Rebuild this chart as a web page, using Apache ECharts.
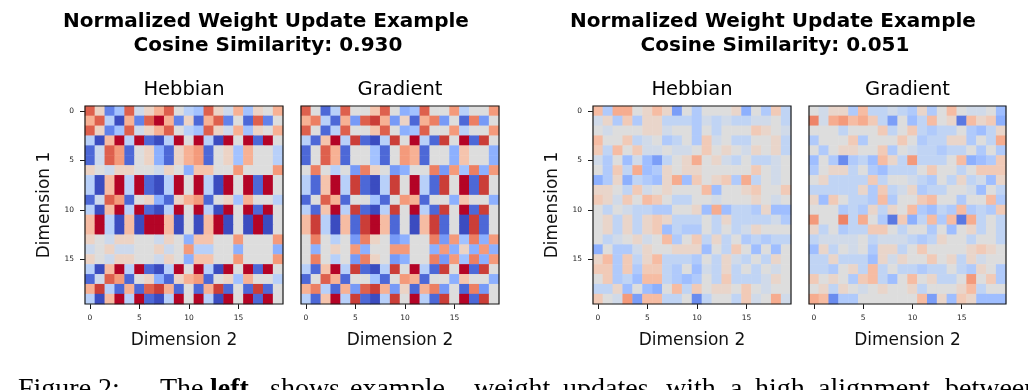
<!DOCTYPE html>
<html>
<head>
<meta charset="utf-8">
<script src="https://cdn.jsdelivr.net/npm/echarts@6/dist/echarts.min.js"></script>
<style>
html,body{margin:0;padding:0;background:#ffffff;}
#main{width:1028px;height:390px;}
</style>
</head>
<body>
<div id="main"></div>
<script>
// ---------- DATA (levels on a symmetric scale) ----------
const cells = ['0','1','2','3','4','5','6','7','8','9','10','11','12','13','14','15','16','17','18','19'];
const panelNames = ['Hebbian', 'Gradient', 'Hebbian', 'Gradient'];
const titleLine1 = ['Normalized Weight Update Example', 'Normalized Weight Update Example'];
const cosineValues = ['0.930', '0.051'];

// high-alignment example: Hebbian rows (repeated row patterns as they appear)
const hA   = [3, 0.5, -3, -1.5, 3, -0.5, 0.5, 1.5, 3, 0, -1, -1.5, 3, 0.5, -0.5, 1.5, -1.5, 0.5, 0, 1.5];
const h1   = [1.5, 3, -1, -4, 1.5, -3, 3, 4, 1.5, -3, 0.5, -3.5, 1.5, 3, -3, 0, -3.5, 3, -3, 0];
const hC   = [-1, -4, 1.2, 4, -1, 4, -3.5, -4, -1, 4, 0, 4, -1, -4, 4, 0, 4, -3.5, 4, 0];
const hNC  = [1.2, 4, -1, -4, 1.2, -4, 4, 4, 1.2, -4, 0, -4, 1.2, 4, -4, 0, -4, 4, -4, 0];
const hD   = [-3.5, -0.5, 3, 2, -3.5, 0, 0.5, -2, -3.5, 0.5, 1.5, 2, -3.5, 0, 0.5, -1.5, 1.5, 0, 0, -1];
const hL   = [0.5, 0, -0.5, 0.5, 0.5, 0, 0, -0.5, 0.5, 0, -2, 1, 1, 0, 0, 2, 0, 0, 0, 2];
const hNL  = [-0.5, 0, 0.5, -0.5, -0.5, 0, 0, 0.5, -0.5, 0, 2, -1, -1, 0, 0, -2, 0, 0, 0, -2];
const h18  = [1.5, 3.5, -1, -3.5, 1.5, -3.5, 3, 3.5, 1.5, -3.5, 0, -3.5, 1.5, 3.5, -3.5, 0, -3.5, 3.5, -3.5, 0];
const hebbianHigh = [hA, h1, hA, hC, hD, hD, hL, hC, hC, hD, hC, hNC, hNC, hL, hNL, hL, hC, hD, h18, hC];

// high-alignment example: Gradient rows
const gA   = [3, 0, -3.5, -1, 3, 0, 0, 1, 3, 0, -2, -1.5, 3, 0, 0, 2, -1, 0, 0, 2];
const g1   = [1.5, 2.5, -1, -3.5, 1.5, -2.5, 3, 3.5, 1.5, -2.5, 0.5, -3.5, 1.5, 2.5, -2.5, 0, -3.5, 2.5, -2.5, 0];
const gC   = [-1, -3.5, 1, 4, -1, 3.5, -3.5, -4, -1, 3.5, 0, 4, -1, -3.5, 3.5, 0, 4, -3.5, 3.5, 0];
const gNC  = [1.2, 3.5, -1, -4, 1.2, -3.5, 3.5, 4, 1.2, -3.5, 0, -4, 1.2, 3.5, -3.5, 0, -4, 3.5, -3.5, 0];
const gD   = [-3.5, 0, 3, 1.5, -3.5, 0, 0, -1.5, -3.5, 0, 2, 1.5, -3.5, 0, 0, -2, 1, 0, 0, -2];
const gG   = [0, 2.5, 0, -1, 0, -2.5, 2.5, 0.5, 0, -2.5, -2, 0, 0, 2.5, -2.5, 2, -1.5, 2.5, -2, 2];
const gNG  = [0, -2, 0, 0.5, 0, 2, -2, 0, 0, 2, 2, 0, 0, -2, 2, -2, 0.5, -2, 2, -2];
const gradientHigh = [gA, g1, gA, gC, gD, gD, gG, gC, gC, gD, gC, gNC, gNC, gG, gNG, gG, gC, gD, g1, gC];

// low-alignment example: Hebbian
const hebbianLow = [
  [1.5, -1.5, 2, 2, 0, 0.5, 1.5, 0.5, -3, 0, -1.5, 0, 0, 0, 0.5, -2.5, 0, -1.5, 1, -1],
  [-0.5, 0.5, -1.5, 1, -1.5, 0.5, 0.5, -1, -1, -1, -1.5, -0.5, -1, -0.5, -1, -1, -0.5, -0.5, 0, -1],
  [0, -0.5, 0, 0, 0, 0.5, 0.5, -0.5, 0, 0, -1.5, 0, -1, 0, 0, 0, 1, 0.5, 0, -0.5],
  [1.5, 0, 0, 1, -1, -0.5, 0, -1.5, -1, 0, -1.5, 1, -0.5, 0, -1, -1, 0, 0, 0.5, -1],
  [1, -1, 1.5, 0, 1, -0.5, -0.5, 0, -0.5, -0.5, 0, 1, 0, 0.5, 0, -0.5, 0.5, 0, 0.5, -1],
  [-0.5, -1.5, 0, -2, -0.5, -2, -3, -1, 0, 0.5, 2, 0, 0.5, -0.5, -1, 0, -1, -1, -0.5, 0],
  [0, -1.5, 1, -1, 2, -2, -1.5, 0.5, 0, 0.5, 0.5, 0, 0, 0, 0, 0, 1, 0, -0.5, 0],
  [-2.5, -1.5, 0.5, -2.5, -1, -1.5, -2, 0.5, 2, -2, 1, 0, 0.5, 1, -1.5, 2, -1, 0, -0.5, 0],
  [0.5, 0.5, 0, -1, 1, -0.5, 0, 0.5, 0, 0, 0, 1.5, -2, 0, 0, 0.5, 1, 0, 0, 1],
  [1, 0.5, -0.5, 1, 0, 1.5, 1, 0, -1, -1, 0, 0, -0.5, 0, 0, 0, 0.5, 0, -0.5, 0],
  [0, -1, 0, -0.5, -1, -1, -1.5, -1.5, 0, 0, 0.5, -2, 2, -2, -1, -1, -1.5, 0.5, -2, -2],
  [0, 0.5, -1, 0.5, -1, 0.5, 1, 0.5, -1, -1, -1, 0, -1, 0.5, -1, -1, -1, -1, -0.5, -1.5],
  [0, 0.5, -1, 0.5, -1, 0.5, 1, -2, -1, -1.5, -1.5, 0, -1, 0, -1, -0.5, 0.5, 0, 0, 0],
  [0, -1, -0.5, 0, 0.5, -0.5, 0, 1.5, -1.5, 0, 1, -1, 0.5, -1, 0, -1.5, -1, -1.5, -1, -1],
  [-2.5, 0, -1.5, -1.5, -0.5, 0.5, 0, 0, 0.5, 0.5, 0.5, -2, 0, -1, 1, 0, -2, 0, -2, 0],
  [0.5, 1.5, -1.5, 1, -1, 0.5, 1.5, -1, -1, -1, -1.5, 0, -1, 0.5, -0.5, -1, 0, -1, 0.5, 0],
  [1, 1, -1.5, 1, -1.5, 1, 1, -1, -1.5, 0, -2, -0.5, -1, 0.5, -1, 0, -1, 0, -0.5, 0],
  [0, 1, -1.5, -1, -2, 1.5, 1.5, -1, -1.5, -2, -1.5, 0, -1, 1, -1, -1, -1, -0.5, 0.5, 0],
  [-1, -1, 0.5, -2, 0, -2, -2.5, 0, 1.5, -1, 1, 0, 0.5, 0.5, 0, 1, 0, -0.5, 0, 0],
  [1, 0, -0.5, 2.5, -3, 1.5, 1.5, -1, -1, 0, -3.5, -1, 0, 0, -1, 1, -0.5, 0, 2, -0.5]
];

// low-alignment example: Gradient
const gradientLow = [
  [0, -0.5, 0.5, 0.5, -1.5, 1.5, -1, -1, -0.5, -1, -1.5, 0.5, -1.5, 0, 1.5, 0, -0.5, -0.5, 0, -2],
  [3, -0.5, 2, 2.5, 1.5, 2, 1, -1, -3, 0, -2, -1, 1.5, 0, 0.5, -4, 1.5, 0.5, 1, -2.5],
  [0, 0, 0, -1, 0, 0, 0, 1, -1, 0, 1, -1, -1.5, -1, -1, 0, -1.5, -2, -1, 0.5],
  [-1.5, 0, 0, 0, 1, -1.5, 0, 0, 0, 1, 0, -1.5, -1, -1, 0.5, 0.5, -1.5, 0, -1, 2],
  [0, -1.5, 0, 0.5, 0.5, 0, 0, 1, -1.5, 0, -0.5, -1, -1, -1.5, -1, -1, 0, -1.5, 0, -1.5],
  [-2, 0, -1.5, -3.5, -1.5, -1, -2, 1.5, 0.5, -1, 2.5, -1, -1, -1, 0, 1.5, -2.5, -2, -1.5, 1],
  [-1.5, 0, 0.5, 0.5, -1, 0, -1.5, -2, -1, -1, -1, 0, 1, 0, 0, -1, 0, 1, 1, 1],
  [0, 0.5, -1, -1, -1, -1, 1, -1, 0, 0, -0.5, -1, -1.5, 0, -1, 0.5, -1, -0.5, -2, 0.5],
  [-1, -1, -1, -1, -1, 0.5, -1.5, 1, -1, -0.5, 0.5, -1.5, -1, -1, 0, 0, -0.5, -2, 0, -1],
  [0.5, -2, 1, 0, -1, -1, -1.5, 1.5, -1.5, 0, 0, 1, 1.5, 0, 0, -1.5, 0, 0, 1.5, -1.5],
  [0, 0, 0, -1.5, -1, -1.5, 0.5, -1, 0.5, 0, 1.5, -1.5, -2, -1, -1.5, 1.5, -1.5, -1, -1.5, 1],
  [2.5, 0, 0, 3, -1, 2, 0, -1.5, -4, 1, -2.5, -1, 1.5, -1.5, 1.5, -4, 2, -1, 0, -1],
  [0.5, -1, 0, -1.5, -1, -1, 1, 1, 0, -1, 0, 0, -1.5, 0, -2, 0, 0.5, -1, 0, -1],
  [-1, -0.5, -0.5, -0.5, -0.5, 0, -1, -0.5, -0.5, -0.5, -1, -1.5, -1, 0.5, 0, 0, -1, 0, 0, -1],
  [-2, 0.5, -1, 0, -0.5, 0, -1.5, 0.5, 0.5, -1, 0, 1, 0, 0, 0, 0, 0.5, 1, 0.5, 0],
  [-1, -1, 0.5, -1, -1, -1, -2, 0.5, -0.5, 0.5, 0, 0, 1, 0, 0.5, -1, 0.5, -0.5, 0, 0],
  [-1, -1, -1.5, 0, 0.5, -1, 1.5, -1, 0, -1, -1, -1.5, -1, -1, 0, -1, -1.5, 0.5, 0, -1.5],
  [1, 0, 0.5, 0, -1.5, 1, 1.5, -1, -2, 0, 1.5, 0, 0.5, -1, -1, 0, 2.5, 0, 1, -1.5],
  [0, 0.5, -1, 0.5, 0, -0.5, 0, 0.5, 0, 0, 0.5, -1, 0, 0, 0, 0.5, 1.5, -1, 0, 0],
  [2, 1.5, -3.5, -1.5, -1.5, 0, 0, 0, 0, 0, 0, 1.5, -3, 0.5, -2, 1, 0.5, -2, -2, -2]
];

// ---------- CHART ----------
const matrices = [hebbianHigh, gradientHigh, hebbianLow, gradientLow];
const coolwarm = ['#3b4cc0','#4d68d7','#6282ea','#779af7','#8db0fe','#a3c2ff','#b8d0f9','#cdd9ec',
                  '#dddddd','#ecd3c5','#f5c4ad','#f7b194','#f49a7b','#ec7f63','#de604d','#cb3e38','#b40426'];
const FONT = 'DejaVu Sans';
const SERIF = 'Liberation Serif';
const grids = [
  {left: 85, top: 106, width: 198, height: 198},
  {left: 301, top: 106, width: 198, height: 198},
  {left: 593, top: 106, width: 198, height: 198},
  {left: 809, top: 106, width: 197, height: 198}
];

function toCells(m) {
  const out = [];
  m.forEach((row, y) => row.forEach((v, x) => out.push([x, y, v])));
  return out;
}

function word(t, x, bold) {
  return {type: 'text', x: x, y: 389.5, z: 100, style: {
    text: t, fontSize: 28, fontFamily: SERIF, fontWeight: bold ? 'bold' : 'normal',
    fill: '#000', align: 'left', verticalAlign: 'middle'}};
}

const option = {
  backgroundColor: '#ffffff',
  animation: false,
  textStyle: {fontFamily: FONT},
  grid: grids.map(g => Object.assign({
    show: true, borderColor: '#1a1a1a', borderWidth: 1.2,
    backgroundColor: 'transparent', z: 10, containLabel: false
  }, g)),
  xAxis: grids.map((g, i) => ({
    type: 'category', gridIndex: i, data: cells, position: 'bottom',
    axisLine: {show: false},
    splitLine: {show: false},
    axisTick: {show: true, alignWithLabel: true, interval: 4, length: 5, lineStyle: {color: '#1a1a1a', width: 1}},
    axisLabel: {interval: 4, fontSize: 7.5, color: '#222', margin: 10, fontFamily: FONT},
    name: 'Dimension 2', nameLocation: 'middle', nameGap: 28,
    nameTextStyle: {fontSize: 17, color: '#111', fontFamily: FONT}
  })),
  yAxis: grids.map((g, i) => {
    const first = (i % 2 === 0);
    return {
      type: 'category', gridIndex: i, data: cells, inverse: true,
      axisLine: {show: false},
      splitLine: {show: false},
      axisTick: {show: first, alignWithLabel: true, interval: 4, length: 5, lineStyle: {color: '#1a1a1a', width: 1}},
      axisLabel: {show: first, interval: 4, fontSize: 7.5, color: '#222', margin: 11, fontFamily: FONT},
      name: first ? 'Dimension 1' : '', nameLocation: 'middle', nameGap: 32,
      nameTextStyle: {fontSize: 17, color: '#111', fontFamily: FONT}
    };
  }),
  visualMap: [
    {type: 'continuous', show: false, min: -4, max: 4, dimension: 2,
     seriesIndex: [0, 1], inRange: {color: coolwarm}},
    {type: 'continuous', show: false, min: -5, max: 5, dimension: 2,
     seriesIndex: [2, 3], inRange: {color: coolwarm}}
  ],
  series: matrices.map((m, i) => ({
    type: 'heatmap', xAxisIndex: i, yAxisIndex: i,
    data: toCells(m),
    itemStyle: {borderWidth: 0},
    emphasis: {disabled: true},
    progressive: 0
  })),
  graphic: [
    {type: 'text', x: 266, y: 22, style: {text: titleLine1[0], fontSize: 20, fontWeight: 'bold', fontFamily: FONT, fill: '#000', align: 'center', verticalAlign: 'middle'}},
    {type: 'text', x: 268, y: 45.5, style: {text: 'Cosine Similarity: ' + cosineValues[0], fontSize: 20, fontWeight: 'bold', fontFamily: FONT, fill: '#000', align: 'center', verticalAlign: 'middle'}},
    {type: 'text', x: 773, y: 22, style: {text: titleLine1[1], fontSize: 20, fontWeight: 'bold', fontFamily: FONT, fill: '#000', align: 'center', verticalAlign: 'middle'}},
    {type: 'text', x: 775, y: 45.5, style: {text: 'Cosine Similarity: ' + cosineValues[1], fontSize: 20, fontWeight: 'bold', fontFamily: FONT, fill: '#000', align: 'center', verticalAlign: 'middle'}}
  ].concat(grids.map((g, i) => ({
    type: 'text', x: g.left + g.width / 2, y: 90,
    style: {text: panelNames[i], fontSize: 19.5, fontFamily: FONT, fill: '#000', align: 'center', verticalAlign: 'middle'}
  }))).concat([
    word('Figure 2:', 18, false),
    word('The', 160, false),
    word('left', 210, true),
    word('shows', 270, false),
    word('example', 350, false),
    word('weight', 474, false),
    word('updates', 563, false),
    word('with', 666, false),
    word('a', 730, false),
    word('high', 755, false),
    word('alignment', 818, false),
    word('between', 945, false)
  ])
};

const chart = echarts.init(document.getElementById('main'), null, {renderer: 'canvas'});
chart.setOption(option);
</script>
</body>
</html>
